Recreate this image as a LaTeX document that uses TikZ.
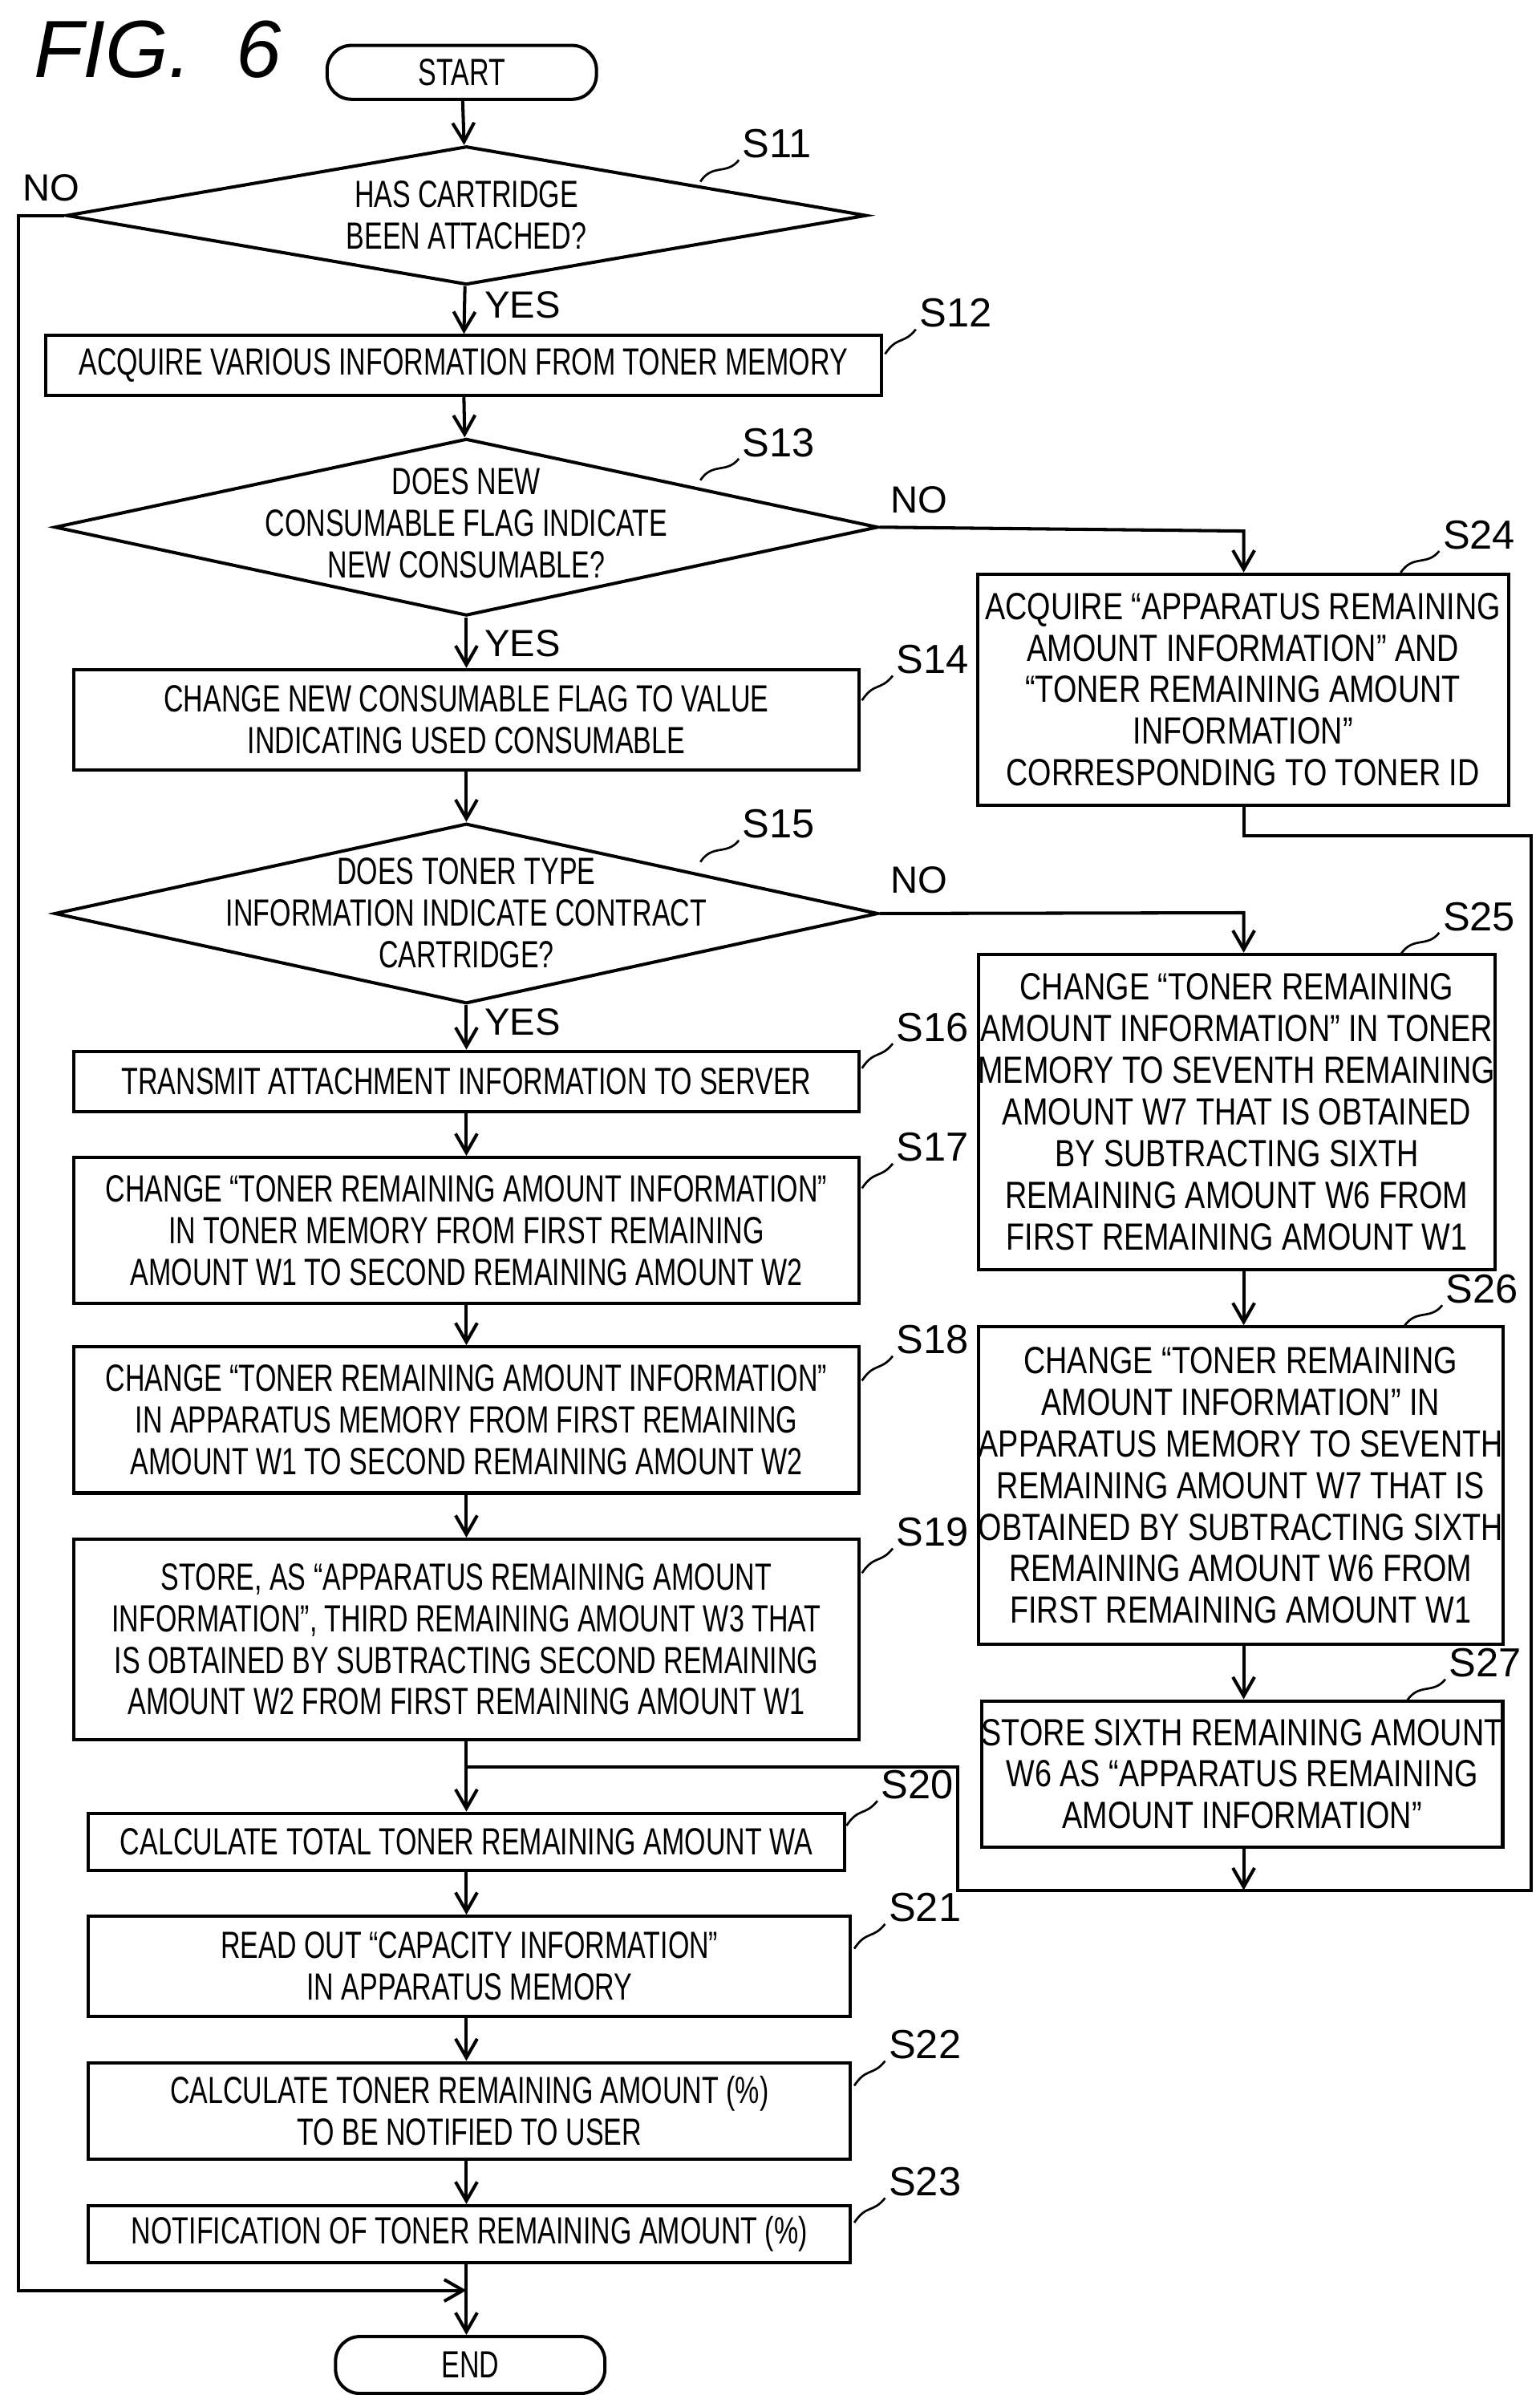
\documentclass[tikz,border=0pt]{standalone}
\usepackage{fontspec}
\setmainfont{Liberation Sans}
\newfontfamily\narrowf[FakeStretch=0.72]{Liberation Sans}
\newfontfamily\rightf[FakeStretch=0.80]{Liberation Sans}
\usetikzlibrary{shapes.geometric,arrows.meta}
\begin{document}
\begin{tikzpicture}[x=0.02cm,y=-0.02cm,line width=1.2pt,
  box/.style={draw,rectangle,inner sep=0,align=center,font=\narrowf\fontsize{14}{15.4}\selectfont},
  rbox/.style={draw,rectangle,inner sep=0,align=center,font=\rightf\fontsize{14}{15.4}\selectfont},
  term/.style={draw,rectangle,rounded corners=9pt,inner sep=0,font=\narrowf\fontsize{14}{15.4}\selectfont},
  dia/.style={draw,diamond,inner sep=0},
  txt/.style={align=center,font=\narrowf\fontsize{14}{15.4}\selectfont},
  lab/.style={font=\fontsize{14}{15}\selectfont,anchor=west,inner sep=1pt},
  steplab/.style={font=\fontsize{15}{16}\selectfont,anchor=west,inner sep=1pt,yshift=6pt},
  arr/.style={-{Straight Barb[length=7pt,width=8pt]}},
  sq/.style={line width=0.8pt}]
\useasboundingbox (0,0) rectangle (1000,1556);
\node[anchor=west,font=\itshape\fontsize{30}{30}\selectfont] (fig) at (15,32) {FIG.\ \ 6};
\node[term,minimum width=175*0.02cm,minimum height=35*0.02cm] (start) at (300,47) {START};
\node[dia,minimum width=520*0.02cm,minimum height=90*0.02cm] (s11) at (303,140) {};
\node[txt] at (303,140) {HAS CARTRIDGE\\BEEN ATTACHED?};
\node[box,minimum width=543*0.02cm,minimum height=39*0.02cm] (s12) at (301,237.5) {ACQUIRE VARIOUS INFORMATION FROM TONER MEMORY};
\node[dia,minimum width=535*0.02cm,minimum height=115*0.02cm] (s13) at (303,342.5) {};
\node[txt] at (303,340) {DOES NEW\\CONSUMABLE FLAG INDICATE\\NEW CONSUMABLE?};
\node[box,minimum width=510*0.02cm,minimum height=65*0.02cm] (s14) at (303,467.5) {CHANGE NEW CONSUMABLE FLAG TO VALUE\\INDICATING USED CONSUMABLE};
\node[dia,minimum width=535*0.02cm,minimum height=117*0.02cm] (s15) at (303,593.5) {};
\node[txt] at (303,593) {DOES TONER TYPE\\INFORMATION INDICATE CONTRACT\\CARTRIDGE?};
\node[box,minimum width=510*0.02cm,minimum height=39*0.02cm] (s16) at (303,702.5) {TRANSMIT ATTACHMENT INFORMATION TO SERVER};
\node[box,minimum width=510*0.02cm,minimum height=95*0.02cm] (s17) at (303,799.5) {CHANGE “TONER REMAINING AMOUNT INFORMATION”\\IN TONER MEMORY FROM FIRST REMAINING\\AMOUNT W1 TO SECOND REMAINING AMOUNT W2};
\node[box,minimum width=510*0.02cm,minimum height=95*0.02cm] (s18) at (303,922.5) {CHANGE “TONER REMAINING AMOUNT INFORMATION”\\IN APPARATUS MEMORY FROM FIRST REMAINING\\AMOUNT W1 TO SECOND REMAINING AMOUNT W2};
\node[box,minimum width=510*0.02cm,minimum height=130*0.02cm] (s19) at (303,1065) {STORE, AS “APPARATUS REMAINING AMOUNT\\INFORMATION”, THIRD REMAINING AMOUNT W3 THAT\\IS OBTAINED BY SUBTRACTING SECOND REMAINING\\AMOUNT W2 FROM FIRST REMAINING AMOUNT W1};
\node[box,minimum width=491*0.02cm,minimum height=37*0.02cm] (s20) at (303,1196.5) {CALCULATE TOTAL TONER REMAINING AMOUNT WA};
\node[box,minimum width=495*0.02cm,minimum height=65*0.02cm] (s21) at (305,1277.5) {READ OUT “CAPACITY INFORMATION”\\IN APPARATUS MEMORY};
\node[box,minimum width=495*0.02cm,minimum height=63*0.02cm] (s22) at (305,1371.5) {CALCULATE TONER REMAINING AMOUNT (\%)\\TO BE NOTIFIED TO USER};
\node[box,minimum width=495*0.02cm,minimum height=37*0.02cm] (s23) at (305,1451.5) {NOTIFICATION OF TONER REMAINING AMOUNT (\%)};
\node[term,minimum width=175*0.02cm,minimum height=37*0.02cm] (end) at (305.5,1536.5) {END};
\node[rbox,minimum width=345*0.02cm,minimum height=150*0.02cm] (s24) at (807.5,448) {ACQUIRE “APPARATUS REMAINING\\AMOUNT INFORMATION” AND\\“TONER REMAINING AMOUNT\\INFORMATION”\\CORRESPONDING TO TONER ID};
\node[rbox,minimum width=333*0.02cm,minimum height=205*0.02cm] (s25) at (803.5,722.5) {CHANGE “TONER REMAINING\\AMOUNT INFORMATION” IN TONER\\MEMORY TO SEVENTH REMAINING\\AMOUNT W7 THAT IS OBTAINED\\BY SUBTRACTING SIXTH\\REMAINING AMOUNT W6 FROM\\FIRST REMAINING AMOUNT W1};
\node[rbox,minimum width=338*0.02cm,minimum height=206*0.02cm] (s26) at (806,965) {CHANGE “TONER REMAINING\\AMOUNT INFORMATION” IN\\APPARATUS MEMORY TO SEVENTH\\REMAINING AMOUNT W7 THAT IS\\OBTAINED BY SUBTRACTING SIXTH\\REMAINING AMOUNT W6 FROM\\FIRST REMAINING AMOUNT W1};
\node[rbox,minimum width=336*0.02cm,minimum height=95*0.02cm] (s27) at (807,1152.5) {STORE SIXTH REMAINING AMOUNT\\W6 AS “APPARATUS REMAINING\\AMOUNT INFORMATION”};
% coordinates
\coordinate (j20) at (303,1148);
\coordinate (c24a) at (808,543);
\coordinate (c24b) at (995,543);
\coordinate (c24c) at (995,1228);
\coordinate (c24d) at (622,1228);
\coordinate (c24e) at (622,1148);
\coordinate (m27) at (808,1228);
\coordinate (n11a) at (12,140);
\coordinate (n11b) at (12,1488);
\coordinate (jend) at (303,1488);
\coordinate (n13) at (808,345);
\coordinate (n15) at (808,593);
% main flow
\draw[arr] (start) -- (s11);
\draw[arr] (s11) -- (s12);
\draw[arr] (s12) -- (s13);
\draw[arr] (s13) -- (s14);
\draw[arr] (s14) -- (s15);
\draw[arr] (s15) -- (s16);
\draw[arr] (s16) -- (s17);
\draw[arr] (s17) -- (s18);
\draw[arr] (s18) -- (s19);
\draw[arr] (s19) -- (s20);
\draw[arr] (s20) -- (s21.north -| s20);
\draw[arr] (s21.south -| s20) -- (s22.north -| s20);
\draw[arr] (s22.south -| s20) -- (s23.north -| s20);
\draw[arr] (s23.south -| s20) -- (end.north -| s20);
\draw[arr] (s11.west) -- (n11a) -- (n11b) -- (jend);
\draw[arr] (s13.east) -- (n13) -- (s24.north -| n13);
\draw[arr] (s15.east) -- (n15) -- (s25.north -| n15);
\draw[arr] (s25.south -| n15) -- (s26.north -| n15);
\draw[arr] (s26.south -| n15) -- (s27.north -| n15);
\draw[arr] (s27.south -| n15) -- (m27);
\draw (s24.south -| c24a) -- (c24a) -- (c24b) -- (c24c) -- (c24d) -- (c24e) -- (j20);
% labels
\node[lab] at (312,198) {YES};
\node[lab] at (312,418) {YES};
\node[lab] at (312,664) {YES};
\node[lab] at (12,122) {NO};
\node[lab] at (576,325) {NO};
\node[lab] at (576,572) {NO};
% step labels with squiggles
\foreach \nm/\px/\py in {S11/455/118, S13/455/312, S15/455/560, S24/910/372, S25/910/620, S26/912/862, S27/914/1105}{
  \draw[sq] (\px,\py) .. controls +(8,-12) and +(-8,10) .. +(25,-14) node[steplab] {\nm};
}
\foreach \nm/\px/\py in {S12/575/230, S14/560/455, S16/560/694, S17/560/772, S18/560/897, S19/560/1022, S20/550/1186, S21/555/1266, S22/555/1355, S23/555/1444}{
  \draw[sq] (\px,\py) .. controls +(8,-12) and +(-8,10) .. +(20,-16) node[steplab] {\nm};
}
\end{tikzpicture}
\end{document}
